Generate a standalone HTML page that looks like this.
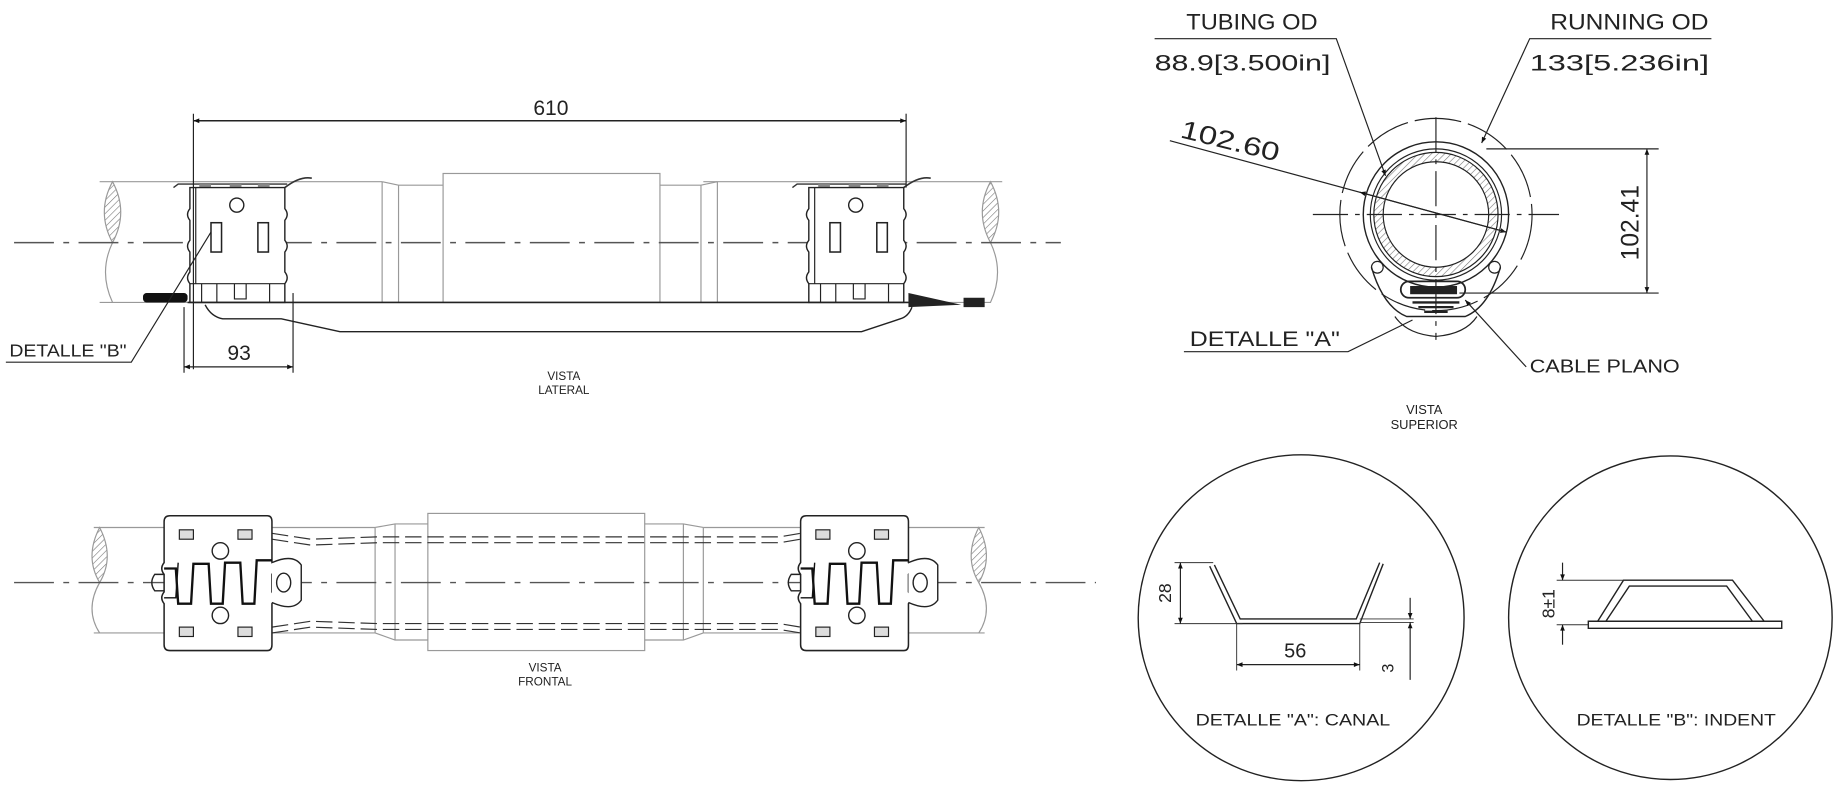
<!DOCTYPE html>
<html><head><meta charset="utf-8"><style>
html,body{margin:0;padding:0;background:#fff;overflow:hidden}
svg{display:block}
text{font-family:"Liberation Sans",sans-serif;fill:#222}
</style></head><body>
<svg width="1838" height="787" viewBox="0 0 1568 671.4" preserveAspectRatio="none" xmlns="http://www.w3.org/2000/svg">
<defs>
<pattern id="h" width="4" height="4" patternUnits="userSpaceOnUse" patternTransform="rotate(45)"><line x1="0" y1="0" x2="0" y2="4" stroke="#777" stroke-width="1"/></pattern>
<marker id="a" viewBox="0 0 10 10" refX="10" refY="5" markerWidth="10" markerHeight="5" orient="auto-start-reverse" markerUnits="userSpaceOnUse"><path d="M0,1 L10,5 L0,9 z" fill="#111"/></marker>
<g id="lc">
 <path d="M148,160 L152,157 L245,157" fill="none" stroke="#333" stroke-width="1.2"/>
 <rect x="170" y="157" width="10" height="3" fill="#888"/><rect x="196" y="157" width="10" height="3" fill="#888"/><rect x="220" y="157" width="10" height="3" fill="#888"/>
 <path d="M162,160 L162,178 Q158,183 162,188 L162,205 Q158,210 162,215 L162,232 Q158,237 162,242 L162,258 L243,258 L243,242 Q247,237 243,232 L243,215 Q247,210 243,205 L243,188 Q247,183 243,178 L243,160 Z" fill="#fff" stroke="#222" stroke-width="1.2"/>
 <line x1="167" y1="160" x2="167" y2="242" stroke="#222"/>
 <path d="M243,160 Q256,150 266,152" fill="none" stroke="#333" stroke-width="1.4"/>
 <circle cx="202" cy="175" r="6" fill="none" stroke="#222" stroke-width="1.2"/>
 <rect x="180" y="190" width="9" height="25" fill="none" stroke="#222" stroke-width="1.3"/>
 <rect x="220" y="190" width="9" height="25" fill="none" stroke="#222" stroke-width="1.3"/>
 <line x1="162" y1="242" x2="243" y2="242" stroke="#222"/>
 <path d="M172,242 V258 M185,242 V258 M200,242 V255 H210 V242 M230,242 V258" fill="none" stroke="#222"/>
</g>
<g id="fc">
 <path d="M140,445 Q140,440 145,440 L228,440 Q232,440 232,445 L232,480 Q236,485 232,490 L232,505 Q236,510 232,515 L232,550 Q232,555 228,555 L145,555 Q140,555 140,550 L140,515 Q136,510 140,505 L140,490 Q136,485 140,480 Z" fill="#fff" stroke="#222" stroke-width="1.3"/>
 <rect x="153" y="452" width="12" height="8" fill="#ddd" stroke="#222"/><rect x="203" y="452" width="12" height="8" fill="#ddd" stroke="#222"/>
 <rect x="153" y="535" width="12" height="8" fill="#ddd" stroke="#222"/><rect x="203" y="535" width="12" height="8" fill="#ddd" stroke="#222"/>
 <circle cx="188" cy="470" r="7" fill="none" stroke="#222" stroke-width="1.2"/><circle cx="188" cy="525" r="7" fill="none" stroke="#222" stroke-width="1.2"/>
 <path d="M140,485 L150,485 L152,515 L163,515 L165,481 L178,481 L180,515 L190,515 L192,480 L205,480 L207,515 L217,515 L219,478 L232,478" fill="none" stroke="#111" stroke-width="2"/>
 <path d="M140,510 L150,510 L152,480" fill="none" stroke="#111" stroke-width="1.2"/>
 <path d="M140,490 L132,490 Q127,497 132,504 L140,504" fill="none" stroke="#222" stroke-width="1.2"/>
 <path d="M232,480 Q250,472 257,482 L257,512 Q250,522 232,514" fill="#fff" stroke="#222" stroke-width="1.2"/>
 <ellipse cx="242" cy="497" rx="6" ry="8" fill="none" stroke="#222" stroke-width="1.2"/>
</g>
</defs>

<text x="65" y="-1" font-size="22" style="fill:#888" textLength="215" lengthAdjust="spacingAndGlyphs">Dimensiones</text>

<!-- ========== VISTA LATERAL ========== -->
<g stroke="#999" stroke-width="1" fill="none">
 <path d="M85,155 H326 M85,258 H326"/>
 <path d="M600,155 H855 M600,258 H790"/>
 <path d="M326,155 L340,158 H378 M326,258 L340,258 H378 M326,155 V258 M340,158 V258"/>
 <rect x="378" y="148" width="185" height="110"/>
 <path d="M563,158 H598 L612,155 M598,158 V258 M612,155 V258"/>
 <path d="M96,155 Q82,181 96,207 Q110,181 96,155 Z" fill="url(#h)"/>
 <path d="M96,207 Q84,232 96,258"/>
 <path d="M845,155 Q831,181 845,207 Q859,181 845,155 Z" fill="url(#h)"/>
 <path d="M845,207 Q857,232 845,258 H790"/>
</g>
<line x1="12" y1="207" x2="905" y2="207" stroke="#555" stroke-width="1.2" stroke-dasharray="34,8,5,8"/>
<use href="#lc"/>
<use href="#lc" transform="translate(528,0)"/>
<path d="M160,258 H775" stroke="#222" stroke-width="1.4"/>
<path d="M175,260 Q180,270 190,272 L240,272 L290,283 L735,283 L768,272 Q775,270 778,262" fill="none" stroke="#222" stroke-width="1.2"/>
<rect x="122" y="250" width="38" height="8" rx="3" fill="#111"/>
<path d="M775,250 L820,260 L775,262 Z" fill="#222"/>
<path d="M822,254 H840 V262 H822 Z" fill="#222"/>
<line x1="165" y1="97" x2="165" y2="315" stroke="#222"/>
<line x1="773" y1="97" x2="773" y2="160" stroke="#222"/>
<line x1="165" y1="103" x2="773" y2="103" stroke="#222" stroke-width="1.2" marker-start="url(#a)" marker-end="url(#a)"/>
<text x="470" y="98" font-size="18" text-anchor="middle">610</text>
<line x1="157" y1="262" x2="157" y2="318" stroke="#222"/>
<line x1="250" y1="250" x2="250" y2="318" stroke="#222"/>
<line x1="157" y1="313" x2="250" y2="313" stroke="#222" marker-start="url(#a)" marker-end="url(#a)"/>
<text x="204" y="307" font-size="18" text-anchor="middle">93</text>
<text x="8" y="304" font-size="15" textLength="100" lengthAdjust="spacingAndGlyphs">DETALLE "B"</text>
<path d="M5,309 H112 L180,198" fill="none" stroke="#222"/>
<text x="481" y="324" font-size="10" text-anchor="middle">VISTA</text>
<text x="481" y="336" font-size="10" text-anchor="middle">LATERAL</text>

<!-- ========== VISTA FRONTAL ========== -->
<g stroke="#999" stroke-width="1" fill="none">
 <path d="M80,450 H320 M80,540 H320 M600,450 H840 M600,540 H840"/>
 <path d="M320,450 L337,447 H365 M320,540 L337,546 H365 M320,450 V540 M337,447 V546"/>
 <rect x="365" y="438" width="185" height="117"/>
 <path d="M550,447 H583 L600,450 M550,546 H583 L600,540 M583,447 V546 M600,450 V540"/>
 <path d="M85,450 Q72,475 85,497 Q98,475 85,450 Z" fill="url(#h)"/>
 <path d="M85,497 Q72,520 85,540"/>
 <path d="M835,450 Q822,475 835,497 Q848,475 835,450 Z" fill="url(#h)"/>
 <path d="M835,497 Q848,520 835,540"/>
</g>
<g stroke="#333" stroke-width="1" fill="none">
 <path d="M232,455 L265,460 L322,458 H665 L683,455" stroke-dasharray="14,5"/>
 <path d="M232,460 L265,465 L322,463 H665 L683,460" stroke-dasharray="14,5"/>
 <path d="M232,540 L265,535 L322,537 H665 L683,540" stroke-dasharray="14,5"/>
 <path d="M232,535 L265,530 L322,532 H665 L683,535" stroke-dasharray="14,5"/>
</g>
<line x1="12" y1="497" x2="935" y2="497" stroke="#555" stroke-width="1.2" stroke-dasharray="34,8,5,8"/>
<use href="#fc"/>
<use href="#fc" transform="translate(543,0)"/>
<text x="465" y="573" font-size="10" text-anchor="middle">VISTA</text>
<text x="465" y="585" font-size="10" text-anchor="middle">FRONTAL</text>

<!-- ========== VISTA SUPERIOR ========== -->
<g fill="none" stroke="#222">
 <circle cx="1225" cy="183" r="82" stroke-dasharray="40,6" stroke-width="1"/>
 <path d="M1170,228 Q1180,262 1200,270 L1250,270 Q1270,262 1280,228" stroke-width="1.2"/>
 <path d="M1190,270 Q1200,285 1225,287 Q1250,285 1260,270" stroke-width="1"/>
 <circle cx="1225" cy="183" r="62" stroke-width="1.2"/>
 <circle cx="1225" cy="183" r="56" stroke-width="1"/>
 <circle cx="1225" cy="183" r="49" stroke="url(#h)" stroke-width="8"/>
 <circle cx="1225" cy="183" r="53" stroke-width="1"/>
 <circle cx="1225" cy="183" r="45" stroke-width="1"/>
 <circle cx="1175" cy="228" r="5"/><circle cx="1275" cy="228" r="5"/>
 <rect x="1195" y="240" width="55" height="14" rx="7" stroke-width="1.5"/>
 <path d="M1205,258 H1245 M1210,262 H1240 M1215,266 H1235" stroke-width="2"/>
 <line x1="1120" y1="183" x2="1330" y2="183" stroke-dasharray="30,6,4,6"/>
 <line x1="1225" y1="100" x2="1225" y2="290" stroke-dasharray="30,6,4,6"/>
</g>
<rect x="1203" y="244" width="40" height="7" fill="#222"/>
<text x="1068" y="25" font-size="19" text-anchor="middle" textLength="112" lengthAdjust="spacingAndGlyphs">TUBING OD</text>
<path d="M985,33 H1140 L1182,150" fill="none" stroke="#222" marker-end="url(#a)"/>
<text x="985" y="60" font-size="19" textLength="150" lengthAdjust="spacingAndGlyphs">88.9[3.500in]</text>
<text x="1390" y="25" font-size="19" text-anchor="middle" textLength="135" lengthAdjust="spacingAndGlyphs">RUNNING OD</text>
<path d="M1460,33 H1305 L1264,122" fill="none" stroke="#222" marker-end="url(#a)"/>
<text x="1305" y="60" font-size="19" textLength="153" lengthAdjust="spacingAndGlyphs">133[5.236in]</text>
<text x="1006" y="117" font-size="22" transform="rotate(14 1006 117)" textLength="86" lengthAdjust="spacingAndGlyphs">102.60</text>
<line x1="998" y1="120" x2="1285" y2="198" stroke="#222" marker-end="url(#a)"/>
<line x1="1285" y1="198" x2="1160" y2="164" stroke="#222" marker-end="url(#a)"/>
<path d="M1268,127 H1415 M1245,250 H1415" stroke="#222"/>
<line x1="1405" y1="127" x2="1405" y2="250" stroke="#222" marker-start="url(#a)" marker-end="url(#a)"/>
<text x="1398" y="190" font-size="21" transform="rotate(-90 1398 190)" text-anchor="middle">102.41</text>
<text x="1015" y="295" font-size="18" textLength="128" lengthAdjust="spacingAndGlyphs">DETALLE "A"</text>
<path d="M1010,300 H1150 L1205,273" fill="none" stroke="#222"/>
<text x="1305" y="318" font-size="16" textLength="128" lengthAdjust="spacingAndGlyphs">CABLE PLANO</text>
<path d="M1302,313 L1250,256" fill="none" stroke="#222" marker-end="url(#a)"/>
<text x="1215" y="353" font-size="11" text-anchor="middle">VISTA</text>
<text x="1215" y="366" font-size="11" text-anchor="middle">SUPERIOR</text>

<!-- ========== DETALLE A ========== -->
<circle cx="1110" cy="527" r="139" fill="none" stroke="#222" stroke-width="1.2"/>
<path d="M1032,483 L1055,532 H1160 L1180,481 M1036,482 L1058,528 H1157 L1177,480" fill="none" stroke="#222" stroke-width="1.2"/>
<path d="M1002,480 H1035 M1002,532 H1060 M1055,532 V572 M1160,532 V572 M1160,531 H1206 M1160,528 H1206" stroke="#333" stroke-width="0.8" fill="none"/>
<line x1="1007" y1="480" x2="1007" y2="532" stroke="#222" marker-start="url(#a)" marker-end="url(#a)"/>
<text x="999" y="506" font-size="15" transform="rotate(-90 999 506)" text-anchor="middle">28</text>
<line x1="1055" y1="567" x2="1160" y2="567" stroke="#222" marker-start="url(#a)" marker-end="url(#a)"/>
<text x="1105" y="561" font-size="17" text-anchor="middle">56</text>
<line x1="1203" y1="510" x2="1203" y2="528" stroke="#222" marker-end="url(#a)"/>
<line x1="1203" y1="580" x2="1203" y2="531" stroke="#222" marker-end="url(#a)"/>
<text x="1189" y="570" font-size="14" transform="rotate(-90 1189 570)" text-anchor="middle">3</text>
<text x="1103" y="619" font-size="14" text-anchor="middle" textLength="166" lengthAdjust="spacingAndGlyphs">DETALLE "A": CANAL</text>

<!-- ========== DETALLE B ========== -->
<circle cx="1425" cy="527" r="138" fill="none" stroke="#222" stroke-width="1.2"/>
<path d="M1355,530 H1520 V536 H1355 Z" fill="none" stroke="#222" stroke-width="1.2"/>
<path d="M1363,530 L1385,495 H1478 L1505,530 M1370,530 L1390,500 H1473 L1495,530" fill="none" stroke="#222" stroke-width="1.2"/>
<path d="M1328,495 H1385 M1328,533 H1355" stroke="#333" stroke-width="0.8"/>
<line x1="1333" y1="480" x2="1333" y2="495" stroke="#222" marker-end="url(#a)"/>
<line x1="1333" y1="550" x2="1333" y2="533" stroke="#222" marker-end="url(#a)"/>
<text x="1326" y="515" font-size="15" transform="rotate(-90 1326 515)" text-anchor="middle">8±1</text>
<text x="1430" y="619" font-size="14" text-anchor="middle" textLength="170" lengthAdjust="spacingAndGlyphs">DETALLE "B": INDENT</text>
</svg>
</body></html>
